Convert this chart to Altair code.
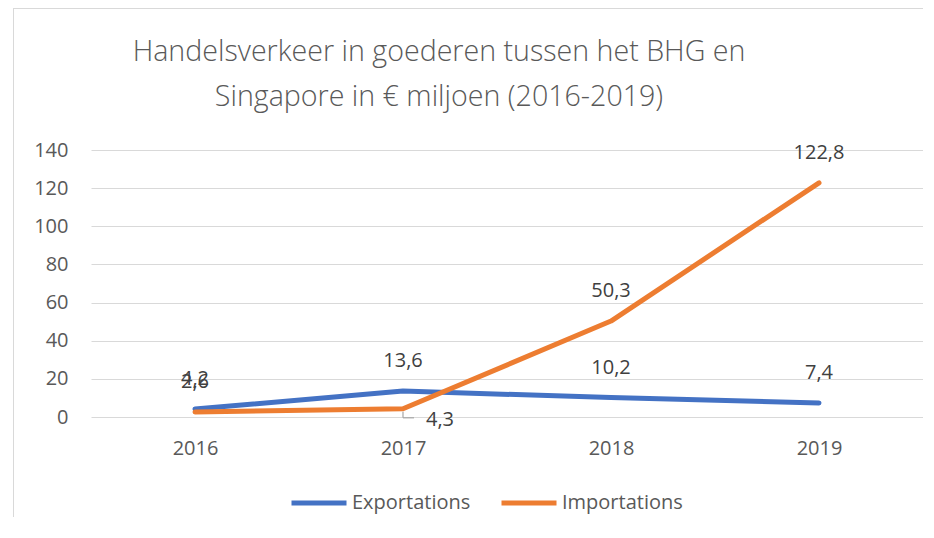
import altair as alt
import pandas as pd

years = ["2016", "2017", "2018", "2019"]
exports = [4.2, 13.6, 10.2, 7.4]
imports = [2.6, 4.3, 50.3, 122.8]
series_names = ["Exportations", "Importations"]
series_colors = ["#4472C4", "#ED7D31"]
title_lines = ["Handelsverkeer in goederen tussen het BHG en", "Singapore in € miljoen (2016-2019)"]
y_ticks = [0, 20, 40, 60, 80, 100, 120, 140]

rows = []
for y, v in zip(years, exports):
    rows.append({"year": y, "series": series_names[0], "value": v})
for y, v in zip(years, imports):
    rows.append({"year": y, "series": series_names[1], "value": v})
df = pd.DataFrame(rows)

FONT = "Open Sans"
GREY = "#595959"
FS = 20

xscale = alt.Scale(type="point", domain=years, padding=0.5)
yscale = alt.Scale(domain=[0, 140], nice=False)

x_axis = alt.Axis(title=None, labelAngle=0, ticks=False, domain=False, grid=False,
                  labelPadding=21, labelFontSize=FS, labelColor=GREY, labelFont=FONT)
y_axis = alt.Axis(title=None, values=y_ticks, ticks=False, domain=False, grid=True,
                  gridColor="#D9D9D9", gridWidth=1, labelPadding=23, labelFontSize=FS,
                  labelColor=GREY, labelFont=FONT, labelOverlap=False)


def X():
    return alt.X("year:N", scale=xscale, sort=years, axis=x_axis)


def Y():
    return alt.Y("value:Q", scale=yscale, axis=y_axis)


base = alt.Chart(df)

lines = base.mark_line(strokeWidth=5, strokeCap="round", strokeJoin="round").encode(
    x=X(),
    y=Y(),
    color=alt.Color("series:N", scale=alt.Scale(domain=series_names, range=series_colors),
                    legend=alt.Legend(title=None, orient="none", direction="horizontal",
                                      legendX=198, legendY=323, symbolType="stroke",
                                      symbolSize=3025, symbolStrokeWidth=5, labelFontSize=FS,
                                      labelFont=FONT, labelColor=GREY, labelOffset=3,
                                      columnPadding=20)),
    order=alt.Order("series:N"),
)

labeled = base.transform_calculate(
    label="replace(format(datum.value, '.1f'), '.', ',')"
)

text_main = labeled.transform_filter(
    "!(datum.series == 'Importations' && datum.year == '2017')"
).mark_text(fontSize=FS, font=FONT, color="#404040", dy=-30, baseline="middle").encode(
    x=X(), y=Y(), text="label:N",
)

text_side = labeled.transform_filter(
    "datum.series == 'Importations' && datum.year == '2017'"
).mark_text(fontSize=FS, font=FONT, color="#404040", dx=37, dy=11, baseline="middle").encode(
    x=X(), y=Y(), text="label:N",
)

side_pt = df[(df.series == "Importations") & (df.year == "2017")]
leader_v = alt.Chart(side_pt).mark_rule(color="#A6A6A6", strokeWidth=1.2, yOffset=3, y2Offset=9).encode(
    x=X(), y=Y(), y2="value:Q",
)
leader_h = alt.Chart(side_pt).mark_rule(color="#A6A6A6", strokeWidth=1.2, xOffset=0, x2Offset=11,
                                         yOffset=9, y2Offset=9).encode(
    x=X(), x2="year:N", y=Y(), y2="value:Q",
)

frame_left = alt.Chart(side_pt).mark_rule(color="#D9D9D9", strokeWidth=1).encode(
    x=alt.value(-77.5), y=alt.value(-142), y2=alt.value(367)
)
frame_top = alt.Chart(side_pt).mark_rule(color="#D9D9D9", strokeWidth=1).encode(
    x=alt.value(-78), x2=alt.value(832), y=alt.value(-141.5)
)

title = alt.Chart(side_pt).mark_text(
    font=FONT, fontSize=28.6, fontWeight=300, color=GREY, align="center",
    baseline="alphabetic", lineBreak="\n", lineHeight=45,
).encode(
    x=alt.value(348), y=alt.value(-89), text=alt.value("\n".join(title_lines))
)

chart = alt.layer(frame_left, frame_top, title, lines, leader_v, leader_h, text_main, text_side).properties(
    width=832,
    height=267,
    padding={"left": 83, "top": 142, "right": 0, "bottom": 100},
    autosize=alt.AutoSizeParams(type="none"),
    background="white",
).configure_view(stroke=None)

chart.save("out.html", embed_options={"renderer": "svg", "actions": False})
